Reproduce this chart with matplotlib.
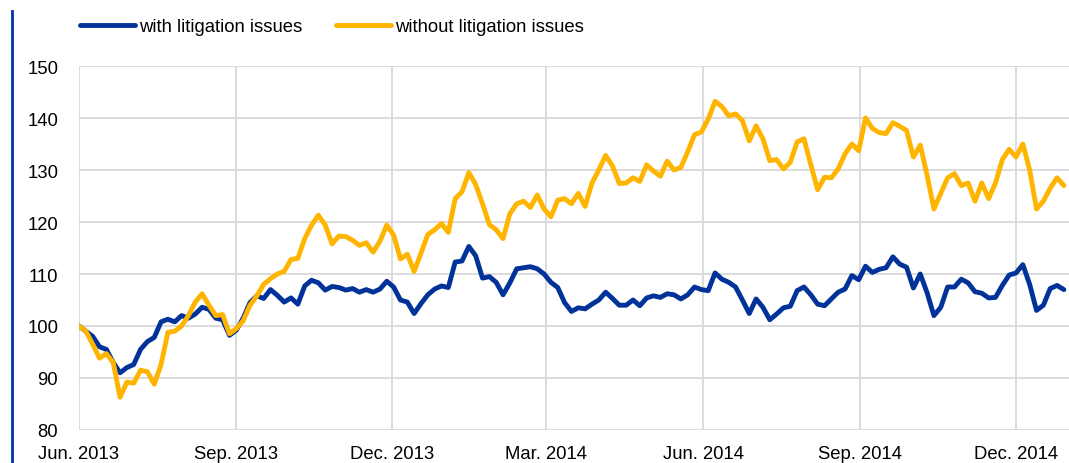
import pandas as pd
import matplotlib.pyplot as plt
import matplotlib.lines as mlines

plt.rcParams['font.family'] = ['Liberation Sans', 'DejaVu Sans']

# Index values, one reading every 4 days from 1 Jun 2013
dates = pd.date_range('2013-06-01', periods=145, freq='4D')

with_litigation = [
    100, 99, 98, 96, 95.5, 93, 91, 92, 92.6, 95.5,
    97, 97.8, 100.8, 101.3, 100.8, 102, 101.5, 102.3, 103.6, 103.2,
    101.5, 101.2, 98.2, 99.2, 101.5, 104.5, 105.8, 105.3, 107, 105.9,
    104.6, 105.4, 104.2, 107.7, 108.8, 108.3, 106.9, 107.6, 107.4, 106.9,
    107.2, 106.5, 107, 106.5, 107.1, 108.6, 107.5, 105, 104.6, 102.4,
    104.3, 106, 107.1, 107.7, 107.4, 112.3, 112.5, 115.3, 113.5, 109.2,
    109.5, 108.4, 106, 108.3, 111, 111.2, 111.4, 111, 110, 108.4,
    107.4, 104.5, 102.8, 103.5, 103.3, 104.2, 105, 106.5, 105.3, 104,
    104, 105, 103.9, 105.4, 105.8, 105.5, 106.2, 106, 105.2, 106,
    107.5, 107, 106.8, 110.2, 109, 108.4, 107.5, 105, 102.4, 105.2,
    103.6, 101.2, 102.3, 103.5, 103.8, 106.8, 107.5, 106, 104.2, 103.9,
    105.2, 106.5, 107.1, 109.7, 108.9, 111.5, 110.3, 110.9, 111.2, 113.3,
    111.9, 111.3, 107.3, 110, 106.4, 102, 103.6, 107.5, 107.5, 109,
    108.3, 106.6, 106.3, 105.4, 105.5, 107.8, 109.8, 110.2, 111.8, 108,
    103, 104, 107.2, 107.8, 107,
]

without_litigation = [
    100, 99, 96.5, 93.8, 94.7, 93, 86.3, 89.2, 89, 91.5,
    91.2, 88.8, 92.6, 98.8, 99, 100, 102, 104.6, 106.2, 104,
    102, 102.2, 98.5, 99.5, 101, 104, 105.8, 108, 109.1, 110,
    110.5, 112.8, 113, 116.8, 119.4, 121.3, 119.4, 115.8, 117.3, 117.2,
    116.5, 115.5, 116, 114.2, 116.3, 119.4, 117.5, 112.9, 113.8, 110.5,
    114, 117.6, 118.5, 119.7, 118, 124.5, 125.8, 129.5, 127.2, 123.5,
    119.5, 118.5, 116.8, 121.6, 123.5, 124, 122.8, 125.2, 122.5, 121,
    124.2, 124.5, 123.5, 125.5, 123, 127.5, 130, 132.8, 130.8, 127.4,
    127.5, 128.5, 127.8, 131, 129.8, 128.8, 131.7, 130, 130.5, 133.5,
    136.8, 137.3, 139.8, 143.2, 142.2, 140.4, 140.8, 139.5, 135.6, 138.5,
    136, 131.8, 132, 130.2, 131.5, 135.4, 136, 131, 126.2, 128.6,
    128.5, 130.2, 133.1, 135, 133.7, 140, 138, 137.2, 137, 139.1,
    138.4, 137.6, 132.5, 134.8, 129, 122.5, 125.5, 128.5, 129.3, 127,
    127.5, 124, 127.5, 124.5, 127.5, 132, 134, 132.5, 135, 130,
    122.5, 124, 126.5, 128.5, 127,
]

tick_dates = pd.to_datetime(['2013-06-01', '2013-09-01', '2013-12-01', '2014-03-01',
                             '2014-06-01', '2014-09-01', '2014-12-01'])
tick_labels = ['Jun. 2013', 'Sep. 2013', 'Dec. 2013', 'Mar. 2014',
               'Jun. 2014', 'Sep. 2014', 'Dec. 2014']

blue = '#003299'
gold = '#FFB400'

fig = plt.figure(figsize=(10.69, 4.64), dpi=100)
ax = fig.add_axes([79 / 1069, 1 - 431 / 464, 1 - 79 / 1069, (431 - 67) / 464])

ax.plot(dates, with_litigation, color=blue, lw=3.5, label='with litigation issues',
        solid_joinstyle='round', solid_capstyle='round', zorder=3)
ax.plot(dates, without_litigation, color=gold, lw=3.5, label='without litigation issues',
        solid_joinstyle='round', solid_capstyle='round', zorder=3)

ax.set_ylim(80, 150)
ax.set_yticks(range(80, 151, 10))
ax.set_xlim(pd.Timestamp('2013-06-01'), pd.Timestamp('2015-01-01'))
ax.set_xticks(tick_dates)
ax.set_xticklabels(tick_labels)

ax.grid(True, color='#d9d9d9', lw=1.3)
ax.set_axisbelow(True)
for s in ax.spines.values():
    s.set_visible(False)
ax.tick_params(length=0, labelsize=13.3, colors='black')
ax.tick_params(axis='y', pad=15)
ax.tick_params(axis='x', pad=11)

fig.legend(loc='center left', bbox_to_anchor=(80 / 1069, 1 - 28 / 464), ncol=2,
           frameon=False, fontsize=13.3, handlelength=3.0, handletextpad=0.2,
           columnspacing=1.8, borderpad=0, borderaxespad=0)

# dark blue rule down the left edge
fig.add_artist(mlines.Line2D([12 / 1069, 12 / 1069], [0, 1 - 12 / 464],
                             color='#0033a0', lw=2))

fig.savefig('out.png', dpi=100)
